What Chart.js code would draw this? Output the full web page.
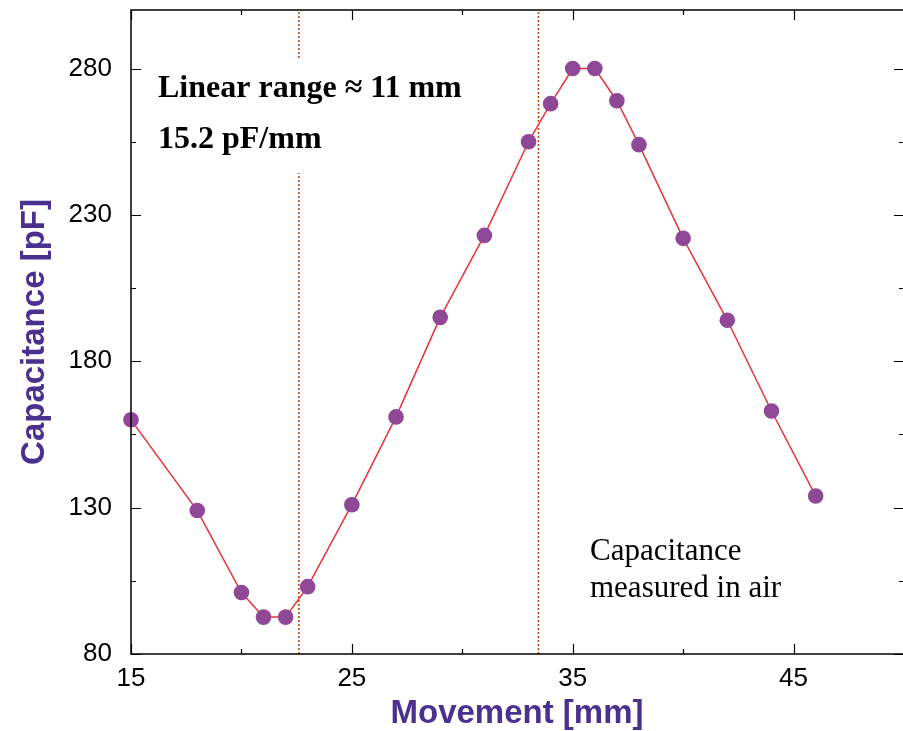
<!DOCTYPE html>
<html>
<head>
<meta charset="utf-8">
<script src="https://cdn.jsdelivr.net/npm/chart.js@4.4.1/dist/chart.umd.min.js"></script>
<style>
    html, body { margin: 0; padding: 0; background: #fff; overflow: hidden; }
    #wrap { position: relative; width: 906px; height: 731px; }
</style>
</head>
<body>
<div id="wrap"><canvas id="grafico"></canvas></div>
<script>
// ============================================
// Capacitance vs movement
// ============================================
const movementMm = [15, 18, 20, 21, 22, 23, 25, 27, 29, 31, 33, 34, 35, 36, 37, 38, 40, 42, 44, 46];
const capacitancePf = [160, 129, 101, 92.6, 92.6, 103, 131, 161, 195, 223, 255, 268, 280, 280, 269, 254, 222, 194, 163, 134];

// limites da faixa linear (linhas pontilhadas)
const linearLimits = [22.6, 33.45];

const xRange = [15, 50];
const yRange = [80, 300];
const xTickValues = [15, 20, 25, 30, 35, 40, 45, 50];
const yTickValues = [80, 105, 130, 155, 180, 205, 230, 255, 280];
const xTickLabels = [15, 25, 35, 45];
const yTickLabels = [80, 130, 180, 230, 280];

const TITLE_COLOR = '#4a3190';
const SANS = '"Liberation Sans", Arial, sans-serif';
const SERIF = '"Liberation Serif", "Times New Roman", serif';

// moldura + ticks para dentro (estilo gnuplot) e textos
const frameAndLabels = {
    id: 'frameAndLabels',
    afterDraw(chart) {
        const { ctx, chartArea: a, scales } = chart;
        const xs = scales.x, ys = scales.y;
        ctx.save();

        // fundo branco atras do texto (interrompe a linha pontilhada)
        ctx.fillStyle = '#fff';
        ctx.fillRect(150, 58, 330, 115);

        ctx.strokeStyle = '#000';
        ctx.lineWidth = 1.5;
        ctx.strokeRect(a.left, a.top, a.right - a.left, a.bottom - a.top);

        ctx.lineWidth = 1.2;
        ctx.beginPath();
        xTickValues.forEach(v => {
            const px = Math.round(xs.getPixelForValue(v)) + 0.5;
            const len = xTickLabels.includes(v) ? 10 : 5;
            ctx.moveTo(px, a.bottom); ctx.lineTo(px, a.bottom - len);
            ctx.moveTo(px, a.top); ctx.lineTo(px, a.top + len);
        });
        yTickValues.forEach(v => {
            const py = Math.round(ys.getPixelForValue(v)) + 0.5;
            const len = yTickLabels.includes(v) ? 10 : 5;
            ctx.moveTo(a.left, py); ctx.lineTo(a.left + len, py);
            ctx.moveTo(a.right, py); ctx.lineTo(a.right - len, py);
        });
        ctx.stroke();

        // anotacoes
        ctx.fillStyle = '#000';
        ctx.textAlign = 'left';
        ctx.textBaseline = 'alphabetic';
        ctx.font = 'bold 32px ' + SERIF;
        ctx.fillText('Linear range ≈ 11 mm', 158, 97);
        ctx.fillText('15.2 pF/mm', 158, 148);
        ctx.font = '31px ' + SERIF;
        ctx.fillText('Capacitance', 590, 560);
        ctx.fillText('measured in air', 590, 597);

        // titulos dos eixos
        ctx.fillStyle = TITLE_COLOR;
        ctx.font = 'bold 33px ' + SANS;
        ctx.textAlign = 'center';
        ctx.fillText('Movement [mm]', 517, 723);
        ctx.translate(44, (a.top + a.bottom) / 2);
        ctx.rotate(-Math.PI / 2);
        ctx.fillText('Capacitance [pF]', 0, 0);

        ctx.restore();
    }
};

const dotted = linearLimits.map(v => ({
    data: [{ x: v, y: yRange[0] }, { x: v, y: yRange[1] }],
    showLine: true,
    borderColor: '#c04a10',
    borderWidth: 1.6,
    borderDash: [2, 2],
    pointRadius: 0,
    order: 2
}));

const semPadding = (s) => {
    s.paddingTop = 0; s.paddingBottom = 0;
    s.paddingLeft = 0; s.paddingRight = 0;
};

new Chart(document.getElementById('grafico'), {
    type: 'scatter',
    data: {
        datasets: [
            {
                data: movementMm.map((m, i) => ({ x: m, y: capacitancePf[i] })),
                showLine: true,
                clip: false,
                borderColor: '#e8323c',
                borderWidth: 1.5,
                pointRadius: 7.8,
                pointBackgroundColor: '#8e4896',
                pointBorderColor: '#8e4896',
                pointBorderWidth: 0,
                order: 1
            },
            ...dotted
        ]
    },
    options: {
        responsive: true,
        maintainAspectRatio: false,
        animation: false,
        layout: { autoPadding: false, padding: { top: 10, right: 2, left: 0, bottom: 0 } },
        plugins: {
            legend: { display: false },
            tooltip: { enabled: false }
        },
        scales: {
            x: {
                type: 'linear',
                min: xRange[0],
                max: xRange[1],
                grid: { display: false, drawTicks: false },
                border: { display: false },
                afterBuildTicks: (s) => { s.ticks = xTickValues.map(v => ({ value: v })); },
                afterFit: (s) => { s.height = 77; semPadding(s); },
                ticks: {
                    autoSkip: false,
                    maxRotation: 0,
                    padding: 9,
                    color: '#000',
                    font: { family: SANS, size: 26 },
                    callback: (v) => xTickLabels.includes(v) ? String(v) : ''
                }
            },
            y: {
                type: 'linear',
                min: yRange[0],
                max: yRange[1],
                grid: { display: false, drawTicks: false },
                border: { display: false },
                afterBuildTicks: (s) => { s.ticks = yTickValues.map(v => ({ value: v })); },
                afterFit: (s) => { s.width = 131; semPadding(s); },
                ticks: {
                    autoSkip: false,
                    padding: 19,
                    color: '#000',
                    font: { family: SANS, size: 26 },
                    callback: (v) => yTickLabels.includes(v) ? String(v) : ''
                }
            }
        }
    },
    plugins: [frameAndLabels]
});
</script>
</body>
</html>
